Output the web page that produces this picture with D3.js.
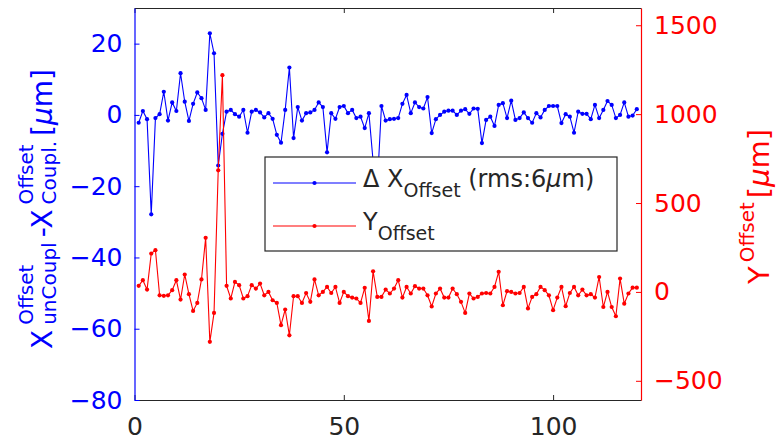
<!DOCTYPE html>
<html>
<head>
<meta charset="utf-8">
<script src="https://cdn.jsdelivr.net/npm/d3@7"></script>
<style>
  html, body { margin: 0; padding: 0; background: #ffffff; }
  svg { display: block; font-family: "DejaVu Sans", sans-serif; }
</style>
</head>
<body>
<svg id="chart" width="782" height="440"></svg>
<script>
// ---------------- DATA ----------------
// ΔX offset (µm), left axis, samples 1..120
const deltaX = [
  -2.2, 1.1, -1.2, -27.9, -0.9, 0.2, 6.5, -1.6, 3.5, 1.1,
  11.7, 3.7, -1.7, 3.1, 6.3, 4.7, 1.4, 22.9, 17.3, -14.2,
  -5.3, 0.9, 1.4, 0.2, -0.5, 1.4, -5.0, 0.9, 1.4, 0.7,
  -0.7, 0.5, -1.1, -5.6, -7.8, 1.4, 13.3, -6.5, 2.2, -1.6,
  0.5, 0.7, 1.4, 3.5, 2.2, -10.5, 0.5, -1.1, 2.2, 2.5,
  0.5, 1.4, -0.9, -0.5, -3.7, 0.5, -13.0, -20.0, 2.5, -1.6,
  -1.2, -1.1, -0.9, 3.1, 5.6, 0.5, 3.5, 2.2, 1.8, 5.0,
  -5.1, -1.2, 0.0, 0.9, 1.2, 1.2, 0.0, 1.2, 1.6, 0.3,
  1.8, 1.7, -7.9, -1.4, -0.5, -3.1, 2.8, 3.3, -0.9, 4.0,
  -1.4, -0.9, 0.7, -0.9, -2.2, 0.5, -0.7, 1.4, 2.5, 2.5,
  2.5, -2.3, 0.2, -0.5, -5.0, 0.9, 0.3, 0.3, -1.2, 2.8,
  -0.9, 1.4, 3.9, 2.8, -0.9, 0.0, 3.5, -0.5, -0.2, 1.6
];
// Y offset (µm), right axis, samples 1..120
const yOffset = [
  34, 66, 13, 216, 235, -19, -22, -19, 10, 66,
  -43, 98, -13, -107, -62, 70, 304, -281, -118, 684,
  1219, 34, -37, 56, 38, -37, -24, 38, 19, 47,
  -19, 0, -47, -62, -187, -99, -244, -24, -24, -62,
  -6, -56, 70, -19, 0, 28, -6, 28, -62, 0,
  -24, -32, -37, -62, 23, -163, 116, -28, -28, 13,
  -9, 19, 66, -32, 28, -9, 32, 19, 19, -19,
  -82, -9, 19, -32, -32, 19, -13, -56, -118, -9,
  -37, -28, -9, -6, -9, 28, 113, -75, 4, 0,
  -9, -6, 28, -93, -28, -13, 28, 10, -19, -103,
  -32, 28, -80, -6, 28, -19, 13, -19, -13, -32,
  84, -85, 0, -85, -137, 75, -66, -9, 24, 24
];
const xTicks = [0, 50, 100];
const leftTicks = [-80, -60, -40, -20, 0, 20];
const rightTicks = [-500, 0, 500, 1000, 1500];
const xDomain = [0, 121];
const leftDomain = [-80, 30];
const rightDomain = [-608, 1597];

// ---------------- STYLE ----------------
const BLUE = "#0000ff", RED = "#ff0000", GRAY = "#262626";
const M = { left: 134.5, right: 641, top: 8, bottom: 400 };

const svg = d3.select("#chart");

const x = d3.scaleLinear().domain(xDomain).range([M.left, M.right]);
const yL = d3.scaleLinear().domain(leftDomain).range([M.bottom, M.top]);
const yR = d3.scaleLinear().domain(rightDomain).range([M.bottom, M.top]);
const plain = d3.format("d");

// ---------------- AXES ----------------
function styleAxis(g, color, size) {
  g.select(".domain").attr("stroke", color).attr("stroke-width", 1.2);
  g.selectAll(".tick line").attr("stroke", color).attr("stroke-width", 1);
  g.selectAll(".tick text").attr("fill", color)
    .style("font-family", "DejaVu Sans, sans-serif").style("font-size", size + "px");
}

svg.append("g").attr("transform", `translate(0,${M.bottom})`)
  .call(d3.axisBottom(x).tickValues(xTicks).tickFormat(plain).tickSize(-5).tickSizeOuter(0).tickPadding(17))
  .call(g => styleAxis(g, GRAY, 25));

svg.append("g").attr("transform", `translate(0,${M.top})`)
  .call(d3.axisTop(x).tickValues(xTicks).tickSize(-5).tickSizeOuter(0).tickFormat(""))
  .call(g => styleAxis(g, GRAY, 25));

svg.append("g").attr("transform", `translate(${M.left},0)`)
  .call(d3.axisLeft(yL).tickValues(leftTicks).tickFormat(plain).tickSize(-5).tickSizeOuter(0).tickPadding(12))
  .call(g => styleAxis(g, BLUE, 25));

svg.append("g").attr("transform", `translate(${M.right},0)`)
  .call(d3.axisRight(yR).tickValues(rightTicks).tickFormat(plain).tickSize(-5).tickSizeOuter(0).tickPadding(13))
  .call(g => styleAxis(g, RED, 25));

// ---------------- SERIES ----------------
const plot = svg.append("g");
function drawSeries(values, yScale, color) {
  const pts = values.map((v, i) => [i + 1, v]);
  plot.append("path").datum(pts)
    .attr("fill", "none").attr("stroke", color).attr("stroke-width", 1.1)
    .attr("d", d3.line().x(d => x(d[0])).y(d => yScale(d[1])));
  plot.append("g").selectAll("circle").data(pts).join("circle")
    .attr("cx", d => x(d[0])).attr("cy", d => yScale(d[1]))
    .attr("r", 2.1).attr("fill", color);
}
drawSeries(deltaX, yL, BLUE);
drawSeries(yOffset, yR, RED);

// ---------------- LEGEND ----------------
const lg = svg.append("g");
lg.append("rect").attr("x", 265).attr("y", 157).attr("width", 352).attr("height", 94)
  .attr("fill", "#fff").attr("stroke", GRAY).attr("stroke-width", 1.2);
const legendRows = [
  { color: BLUE, y: 183, main: "Δ X", sub: "Offset", rest: true },
  { color: RED, y: 226, main: "Y", sub: "Offset", rest: false }
];
legendRows.forEach(r => {
  lg.append("line").attr("x1", 273).attr("x2", 356).attr("y1", r.y).attr("y2", r.y)
    .attr("stroke", r.color).attr("stroke-width", 1.1);
  lg.append("circle").attr("cx", 314.5).attr("cy", r.y).attr("r", 2.1).attr("fill", r.color);
  const t = lg.append("text").attr("x", 363).attr("y", r.y + 4)
    .attr("fill", GRAY).style("font-size", "24px");
  t.append("tspan").text(r.main);
  t.append("tspan").attr("dy", 10).style("font-size", "19px").text(r.sub);
  if (r.rest) {
    t.append("tspan").attr("dy", -10).text(" (rms:6");
    t.append("tspan").style("font-style", "italic").text("μ");
    t.append("tspan").text("m)");
  }
});

// ---------------- AXIS LABELS (rotated, TeX-like) ----------------
function texLabel(parent, parts, color, bigSize, smallSize, gap) {
  const t = parent.append("text").attr("fill", color);
  let pos = 0;
  const measure = (str, size, italic) => {
    const tmp = parent.append("text").style("font-size", size + "px")
      .style("font-style", italic ? "italic" : "normal").text(str);
    const w = tmp.node().getComputedTextLength();
    tmp.remove();
    return w;
  };
  parts.forEach(p => {
    if (p.stack) {
      let w = 0;
      p.stack.forEach(s => {
        t.append("tspan").attr("x", pos).attr("y", s.dy)
          .style("font-size", smallSize + "px").text(s.t);
        w = Math.max(w, measure(s.t, smallSize));
      });
      pos += w + gap;
    } else {
      t.append("tspan").attr("x", pos).attr("y", p.dy || 0)
        .style("font-size", (p.small ? smallSize : bigSize) + "px")
        .style("font-style", p.italic ? "italic" : "normal").text(p.t);
      pos += measure(p.t, p.small ? smallSize : bigSize, p.italic) + (p.nogap ? 0 : gap);
    }
  });
  return pos;
}

const leftLab = svg.append("g").attr("transform", "translate(52,349) rotate(-90)");
texLabel(leftLab, [
  { t: "X" },
  { stack: [{ t: "Offset", dy: -19 }, { t: "unCoupl", dy: 4 }] },
  { t: "-X" },
  { stack: [{ t: "Offset", dy: -19 }, { t: "Coupl.", dy: 4 }] },
  { t: "[", nogap: true }, { t: "μ", italic: true, nogap: true }, { t: "m]" }
], BLUE, 28, 20, 5);

const rightLab = svg.append("g").attr("transform", "translate(769,284) rotate(-90)");
texLabel(rightLab, [
  { t: "Y" },
  { stack: [{ t: "Offset", dy: -15 }] },
  { t: "[", nogap: true }, { t: "μ", italic: true, nogap: true }, { t: "m]" }
], RED, 29, 20, 4);
</script>
</body>
</html>
